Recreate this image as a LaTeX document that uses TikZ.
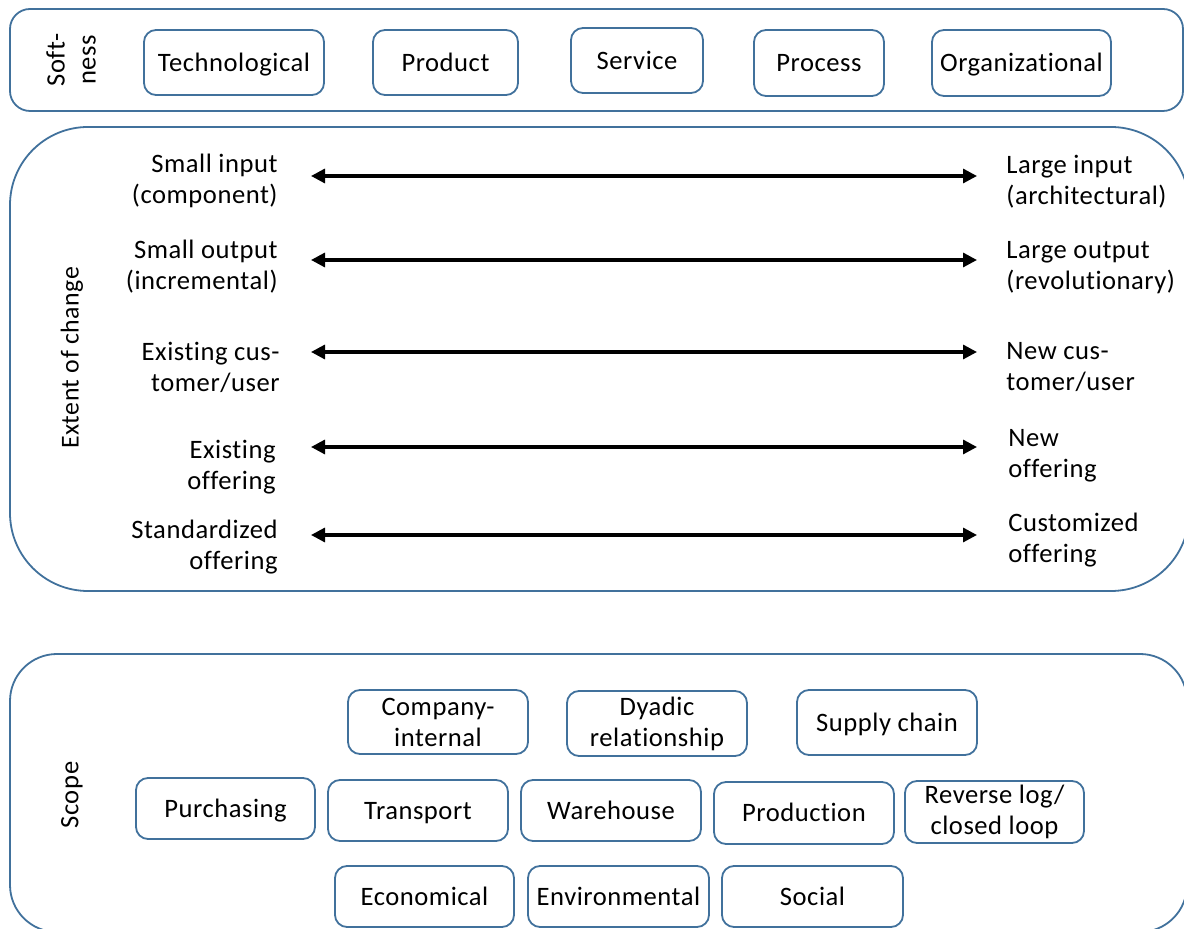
\documentclass[tikz,border=0pt]{standalone}
\usepackage{fontspec}
\setmainfont{Carlito}[Ligatures={TeX,NoCommon},LetterSpace=2]
\usetikzlibrary{arrows.meta}
\definecolor{boxblue}{RGB}{65,113,156}
\begin{document}
\begin{tikzpicture}[x=0.5pt,y=-0.5pt,
  font=\fontsize{13.3}{15.5}\selectfont,
  outer/.style={draw=boxblue, line width=0.9pt, rounded corners=#1, inner sep=0pt},
  mbox/.style={draw=boxblue, line width=0.9pt, rounded corners=6pt, align=center, inner sep=0pt},
  ibox/.style={mbox, text height=8.6pt, text depth=0pt},
  lbl/.style={inner sep=0pt, align=right, anchor=east},
  rbl/.style={inner sep=0pt, align=left, anchor=west},
  dbl/.style={{Triangle[length=7pt,width=7pt]}-{Triangle[length=7pt,width=7pt]}, line width=1.6pt, draw=black},
  vlab/.style={rotate=90, align=center, inner sep=0pt}]
\useasboundingbox (0,0) rectangle (1184,929);
\clip (0,0) rectangle (1184,929);

% outer containers
\node[outer=10pt, minimum width=586.5pt, minimum height=51pt] (softbox) at (596.5,60) {};
\node[outer=39pt, minimum width=589.5pt, minimum height=232pt] (extbox) at (599.5,359) {};
\node[outer=23.5pt, minimum width=588.5pt, minimum height=139pt] (scopebox) at (598.5,793) {};

% rotated labels
\node[vlab] (softlab) at (71,60) {Soft-\\ness};
\node[vlab, font=\fontsize{12.9}{15.5}\selectfont] (extlab) at (72,358) {Extent of change};
\node[vlab] (scopelab) at (72,795) {Scope};

% softness boxes
\node[ibox, minimum width=90pt, minimum height=32.5pt] (tech) at (234,62.5) {Technological};
\node[ibox, minimum width=72.5pt, minimum height=32.5pt] (prod) at (445.5,62.5) {Product};
\node[ibox, minimum width=66pt, minimum height=32.5pt] (serv) at (637,60.5) {Service};
\node[ibox, minimum width=65pt, minimum height=33pt] (proc) at (819,63) {Process};
\node[ibox, minimum width=89.5pt, minimum height=33pt] (org) at (1021.5,63) {Organizational};

% extent of change rows
\node[lbl] (l1) at (278,180.5) {Small input\\(component)};
\node[rbl] (r1) at (1006,181.5) {Large input\\(architectural)};
\node[lbl] (l2) at (278,266.5) {Small output\\(incremental)};
\node[rbl] (r2) at (1006,267.5) {Large output\\(revolutionary)};
\node[lbl] (l3) at (280,367) {Existing cus-\\tomer/user};
\node[rbl] (r3) at (1006,367) {New cus-\\tomer/user};
\node[lbl] (l4) at (276,467.5) {Existing\\offering};
\node[rbl] (r4) at (1008,455.5) {New\\offering};
\node[lbl] (l5) at (278,547.5) {Standardized\\offering};
\node[rbl] (r5) at (1008,540) {Customized\\offering};

\coordinate (a1l) at (311,176); \coordinate (a1r) at (977,176);
\coordinate (a2l) at (311,260); \coordinate (a2r) at (977,260);
\coordinate (a3l) at (311,352); \coordinate (a3r) at (977,352);
\coordinate (a4l) at (311,447); \coordinate (a4r) at (977,447);
\coordinate (a5l) at (311,535); \coordinate (a5r) at (977,535);
\draw[dbl] (a1l) -- (a1r);
\draw[dbl] (a2l) -- (a2r);
\draw[dbl] (a3l) -- (a3r);
\draw[dbl] (a4l) -- (a4r);
\draw[dbl] (a5l) -- (a5r);

% scope boxes
\node[mbox, minimum width=90pt, minimum height=32pt] (comp) at (438,722) {Company-\\internal};
\node[mbox, minimum width=90pt, minimum height=32.5pt] (dyad) at (657,723.5) {Dyadic\\relationship};
\node[ibox, minimum width=90pt, minimum height=32.5pt] (supp) at (887,722.5) {Supply chain};
\node[ibox, minimum width=89.5pt, minimum height=30.5pt] (purch) at (225.5,808.5) {Purchasing};
\node[ibox, minimum width=90pt, minimum height=30.5pt] (trans) at (418,810.5) {Transport};
\node[ibox, minimum width=90pt, minimum height=30.5pt] (ware) at (611,810.5) {Warehouse};
\node[ibox, minimum width=90pt, minimum height=31pt] (prodn) at (804,813) {Production};
\node[mbox, minimum width=89.5pt, minimum height=31pt] (rev) at (994.5,812) {Reverse log/\\closed loop};
\node[ibox, minimum width=89.5pt, minimum height=30.5pt] (econ) at (424.5,896.5) {Economical};
\node[ibox, minimum width=90.5pt, minimum height=30.5pt] (env) at (618.5,896.5) {Environmental};
\node[ibox, minimum width=90.5pt, minimum height=30.5pt] (soc) at (812.5,896.5) {Social};
\end{tikzpicture}
\end{document}
